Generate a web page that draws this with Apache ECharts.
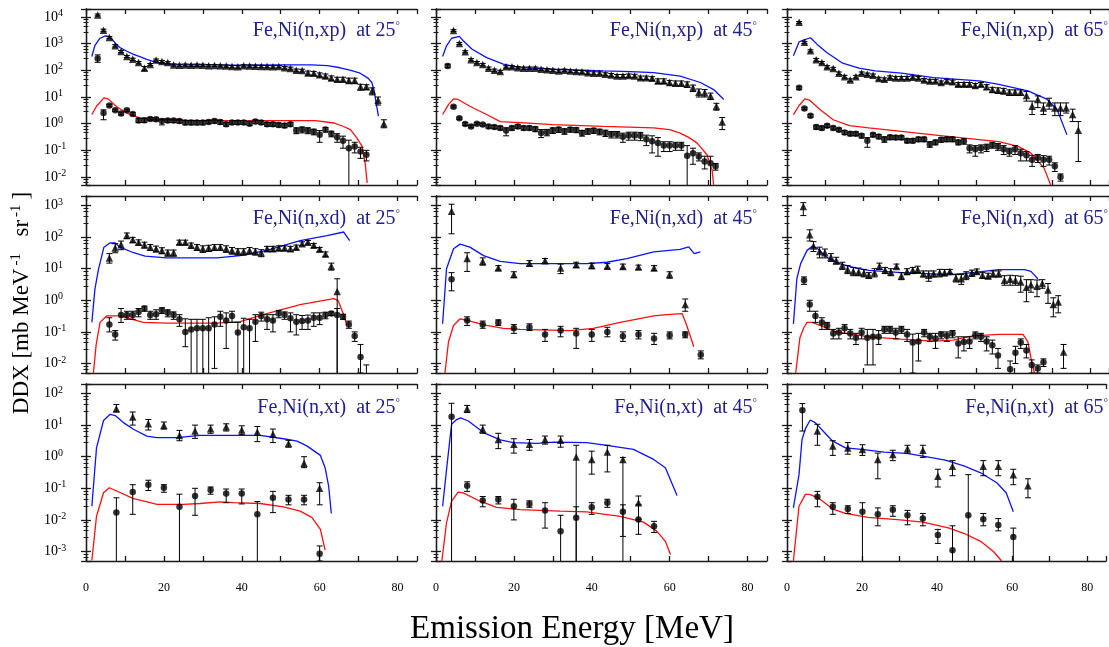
<!DOCTYPE html>
<html>
<head>
<meta charset="utf-8">
<script src="https://cdn.jsdelivr.net/npm/echarts@6/dist/echarts.min.js"></script>
<style>
html, body { margin: 0; padding: 0; background: #fff; }
#chart { width: 1109px; height: 647px; }
</style>
</head>
<body>
<div id="chart"></div>
<script>
// data points: [energy MeV, DDX, err low, err high]; curves: [energy, DDX]

// ---- (n,xp) 25 deg
var xp25Tri = [[3,12000,11000,13000],[4.5,3200,2900,3500],[6,1700,1550,1850],[7.5,830,750,920],[9,510,460,560],[10.5,330,300,360],[12,260,235,285],[13.5,195,175,215],[15,120,100,140],[16.5,165,150,180],[18,245,225,265],[19.5,215,195,235],[21,195,178,212],[22.5,160,145,175],[24,155,140,170],[25.5,158,143,173],[27,155,140,170],[28.5,157,142,172],[30,155,140,170],[31.5,150,136,164],[33,152,138,166],[34.5,148,134,162],[36,145,131,159],[37.5,138,124,152],[39,135,120,150],[40.5,148,134,162],[42,145,131,159],[43.5,142,128,156],[45,140,126,154],[46.5,138,124,152],[48,135,121,149],[49.5,138,124,152],[51,126,112,140],[52.5,118,104,132],[54,100,88,112],[55.5,98,86,110],[57,80,66,94],[58.5,78,65,91],[60,68,56,80],[61.5,62,51,73],[63,52,42,62],[64.5,46,37,55],[66,46,37,55],[67.5,42,33,51],[69,42,33,51],[70.5,24,18,30],[72,24,19,29],[73.5,17,12,22],[75,7.6,5,10],[76.5,1.0,0.7,1.4]];
var xp25Cir = [[3,280,200,380],[4.5,2.5,1.4,3.3],[6,4.8,4.3,5.3],[7.5,3.2,2.9,3.5],[9,2.4,2.1,2.7],[10.5,3.2,2.9,3.5],[12,2.3,2.0,2.6],[13.5,1.3,1.1,1.6],[15,1.35,1.1,1.6],[16.5,1.5,1.3,1.7],[18,1.45,1.25,1.65],[19.5,1.25,0.9,1.5],[21,1.3,1.1,1.5],[22.5,1.3,1.1,1.5],[24,1.25,1.05,1.45],[25.5,1.1,0.9,1.3],[27,1.1,0.9,1.3],[28.5,1.1,0.9,1.3],[30,1.1,0.9,1.3],[31.5,1.15,1.0,1.35],[33,1.25,1.05,1.45],[34.5,1.15,0.95,1.35],[36,0.95,0.8,1.1],[37.5,1.1,0.95,1.3],[39,1.1,0.95,1.3],[40.5,1.1,0.95,1.3],[42,1.0,0.85,1.2],[43.5,1.2,1.0,1.4],[45,1.1,0.95,1.3],[46.5,0.95,0.8,1.1],[48,0.95,0.8,1.1],[49.5,0.9,0.75,1.05],[51,0.85,0.7,1.0],[52.5,0.95,0.8,1.1],[54,0.55,0.42,0.7],[55.5,0.6,0.45,0.75],[57,0.55,0.42,0.7],[58.5,0.5,0.38,0.62],[60,0.38,0.2,0.55],[61.5,0.6,0.48,0.72],[63,0.42,0.32,0.52],[64.5,0.31,0.2,0.42],[66,0.23,0.12,0.34],[67.5,0.12,0.001,0.24],[69,0.14,0.08,0.2],[70.5,0.09,0.05,0.13],[72,0.068,0.04,0.1]];
var xp25Blue = [[1.5,330],[2.3,870],[3.6,1600],[5,1950],[6.2,1850],[7.5,1050],[8.7,720],[10.5,520],[12.2,400],[14,320],[15.6,260],[18.2,195],[20,180],[22.5,165],[30,160],[40,158],[50,160],[58,160],[62,150],[65.3,125],[68,100],[70.4,78],[72.5,50],[73.4,35],[74,17],[74.6,5],[75.1,1.9]];
var xp25Red = [[1.5,2.2],[2.7,4.5],[4.6,9.3],[5.7,8.5],[7.9,4.3],[10.5,2.5],[13.9,1.6],[18.2,1.4],[29,1.3],[45,1.3],[59,1.3],[63.6,1.06],[66,0.8],[67.9,0.6],[69.5,0.3],[70.9,0.14],[71.7,0.032],[72.2,0.006]];

// ---- (n,xp) 45 deg
var xp45Tri = [[4.5,3100,2850,3350],[6,1020,930,1110],[7.5,500,455,545],[9,250,225,275],[10.5,195,175,215],[12,165,148,182],[13.5,120,107,133],[15,100,89,111],[16.5,90,80,100],[18,135,121,149],[19.5,135,121,149],[21,126,113,139],[22.5,120,107,133],[24,120,107,133],[25.5,120,107,133],[27,110,98,122],[28.5,105,93,117],[30,100,89,111],[31.5,95,84,106],[33,100,89,111],[34.5,95,84,106],[36,90,80,100],[37.5,88,78,98],[39,82,72,92],[40.5,78,68,88],[42,78,68,88],[43.5,72,63,81],[45,67,58,76],[46.5,62,54,70],[48,62,54,70],[49.5,64,55,73],[51,62,53,71],[52.5,53,45,61],[54,53,45,61],[55.5,50,42,58],[57,40,32,48],[58.5,40,32,48],[60,35,28,42],[61.5,33,26,40],[63,33,26,40],[64.5,30,23,37],[66,22,16,28],[67.5,15,10,20],[69,14.5,10,19],[70.5,11,8,14],[72,4.5,3.2,5.8],[73.5,1.15,0.6,1.7]];
var xp45Cir = [[3,147,125,170],[4.5,4.3,3.9,4.7],[6,1.6,1.45,1.75],[7.5,0.97,0.85,1.1],[9,0.79,0.7,0.88],[10.5,1.0,0.9,1.1],[12,0.92,0.82,1.02],[13.5,0.79,0.68,0.9],[15,0.75,0.64,0.86],[16.5,0.69,0.58,0.8],[18,0.55,0.35,0.7],[19.5,0.69,0.57,0.81],[21,0.79,0.67,0.91],[22.5,0.69,0.57,0.81],[24,0.69,0.57,0.81],[25.5,0.63,0.5,0.76],[27,0.45,0.3,0.6],[28.5,0.48,0.35,0.61],[30,0.56,0.43,0.69],[31.5,0.6,0.47,0.73],[33,0.52,0.4,0.64],[34.5,0.6,0.48,0.72],[36,0.58,0.46,0.7],[37.5,0.45,0.34,0.56],[39,0.52,0.4,0.64],[40.5,0.55,0.43,0.67],[42,0.5,0.38,0.62],[43.5,0.45,0.33,0.57],[45,0.4,0.29,0.51],[46.5,0.4,0.29,0.51],[48,0.32,0.2,0.44],[49.5,0.36,0.24,0.48],[51,0.36,0.24,0.48],[52.5,0.35,0.23,0.47],[54,0.26,0.15,0.37],[55.5,0.22,0.08,0.35],[57,0.19,0.06,0.3],[58.5,0.15,0.09,0.21],[60,0.15,0.09,0.21],[61.5,0.15,0.1,0.2],[63,0.15,0.1,0.2],[64.5,0.063,0.001,0.15],[66,0.078,0.03,0.12],[67.5,0.058,0.04,0.08],[69,0.038,0.02,0.06],[70.5,0.033,0.001,0.06],[71.8,0.025,0.018,0.032]];
var xp45Blue = [[1.7,330],[2.7,830],[4,1600],[6,1870],[7,1290],[9.2,630],[13,300],[17.3,170],[21.6,126],[30,110],[43,95],[50,90],[55.9,82],[62.7,61],[67.9,35],[71.3,19],[73.9,8.1]];
var xp45Red = [[1.7,2.2],[3.2,5.2],[4.5,8.5],[5.7,8.1],[8.7,4.5],[13,2.2],[16.5,1.2],[21.6,1.1],[30,0.92],[43,0.79],[55.9,0.69],[60,0.6],[62.7,0.44],[65,0.3],[67,0.19],[69.6,0.068],[70.9,0.018],[71.3,0.005]];

// ---- (n,xp) 65 deg
var xp65Tri = [[3.2,6300,5800,6800],[4.6,1120,1020,1220],[6.2,540,490,590],[7.7,250,220,280],[9.2,195,175,215],[10.6,135,120,150],[12.2,117,104,130],[13.7,78,69,87],[15.2,58,51,65],[16.7,43,38,48],[18.2,58,51,65],[19.7,78,69,87],[21.2,71,63,79],[22.7,65,57,73],[24.2,49,43,55],[25.7,46,40,52],[27.2,55,48,62],[28.7,52,45,59],[30.2,52,45,59],[31.7,52,45,59],[33.2,55,48,62],[34.7,52,45,59],[36.2,43,37,49],[37.7,40,34,46],[39.2,40,34,46],[40.7,35,30,40],[42.2,40,34,46],[43.7,37,31,43],[45.2,30,25,35],[46.7,30,25,35],[48.2,30,25,35],[49.7,27,22,32],[51.2,30,25,35],[52.7,24,19,29],[54.2,19,15,23],[55.7,18,14,22],[57.2,17,13,21],[58.7,15,11.5,18.5],[60.2,15,11.5,18.5],[61.7,15,11.5,18.5],[63.2,11.4,7,16],[64.7,4.5,2.2,7],[66.2,8,4,11],[67.7,3.9,2.2,6],[69.2,6,3.5,9],[70.7,3.9,2,6],[72.2,3.9,2,6],[73.7,3.9,2.5,6],[75.4,2.2,1.2,3.5],[76.9,0.56,0.038,1.2]];
var xp65Cir = [[3.2,22,19,25],[4.6,3.7,3.3,4.1],[6.2,2.0,1.75,2.25],[7.7,0.75,0.62,0.88],[9.2,0.69,0.58,0.8],[10.6,0.84,0.72,0.96],[12.2,0.69,0.58,0.8],[13.7,0.59,0.5,0.68],[15.2,0.47,0.39,0.55],[16.7,0.42,0.35,0.49],[18.2,0.42,0.35,0.49],[19.7,0.35,0.29,0.41],[21.2,0.23,0.13,0.3],[22.7,0.38,0.32,0.44],[24.2,0.33,0.27,0.39],[25.7,0.26,0.2,0.32],[27.2,0.31,0.25,0.37],[28.7,0.3,0.25,0.35],[30.2,0.3,0.25,0.35],[31.7,0.23,0.19,0.27],[33.2,0.23,0.19,0.27],[34.7,0.26,0.21,0.31],[36.2,0.26,0.21,0.31],[37.7,0.17,0.13,0.21],[39.2,0.2,0.16,0.24],[40.7,0.25,0.2,0.3],[42.2,0.26,0.21,0.31],[43.7,0.26,0.21,0.31],[45.2,0.2,0.16,0.24],[46.7,0.22,0.17,0.27],[48.2,0.12,0.08,0.16],[49.7,0.11,0.06,0.15],[51.2,0.12,0.08,0.16],[52.7,0.13,0.09,0.17],[54.2,0.16,0.12,0.2],[55.7,0.14,0.1,0.18],[57.2,0.11,0.07,0.15],[58.7,0.09,0.06,0.12],[60.2,0.11,0.07,0.15],[61.7,0.078,0.04,0.11],[63.2,0.065,0.04,0.09],[64.7,0.044,0.025,0.065],[66.2,0.053,0.035,0.07],[67.7,0.044,0.025,0.063],[69.2,0.044,0.028,0.06],[70.7,0.025,0.016,0.034],[72.2,0.01,0.007,0.013]];
var xp65Blue = [[1.7,350],[3.2,1180],[4.5,1400],[6.2,1670],[7.9,960],[10.5,470],[14.7,185],[19,120],[23.3,95],[30.2,78],[38.7,53],[50.7,40],[55.9,30],[63.6,17],[68.7,8.1],[71.3,3.4],[73.9,0.38]];
var xp65Red = [[1.7,2.2],[3.2,4.8],[4.7,8.5],[6,7.6],[8.7,3.4],[12.2,1.4],[16.5,0.84],[21.6,0.69],[30.2,0.51],[38.7,0.38],[50.7,0.25],[55.9,0.21],[61,0.14],[64.4,0.078],[67.9,0.021],[69.6,0.005]];

// ---- (n,xd) 25 deg
var xd25Tri = [[6,22,15,30],[7.5,45,32,62],[9,57,40,75],[10.5,112,90,135],[12,83,68,98],[13.5,69,56,82],[15,57,45,69],[16.5,48,38,58],[18,43,34,52],[19.5,38,30,46],[21,32,25,39],[22.5,32,25,39],[24,69,58,80],[25.5,69,58,80],[27,55,45,65],[28.5,48,38,58],[30,43,33,53],[31.5,45,35,55],[33,48,38,58],[34.5,48,38,58],[36,43,33,53],[37.5,38,29,47],[39,35,27,43],[40.5,35,27,43],[42,38,29,47],[43.5,35,27,43],[45,32,24,40],[46.5,43,35,51],[48,43,35,51],[49.5,45,37,53],[51,45,37,53],[52.5,43,35,51],[54,48,40,56],[55.5,62,53,71],[57,69,60,78],[58.5,55,47,63],[60,41,35,47],[61.5,29,24,34],[63,12,9,15],[64.5,1.9,0.001,4.8]];
var xd25Cir = [[6,0.17,0.1,0.28],[7.5,0.083,0.055,0.11],[9,0.34,0.2,0.55],[10.5,0.34,0.25,0.45],[12,0.34,0.25,0.45],[13.5,0.43,0.3,0.55],[15,0.55,0.45,0.65],[16.5,0.34,0.25,0.45],[18,0.36,0.25,0.5],[19.5,0.48,0.38,0.58],[21,0.4,0.3,0.5],[22.5,0.34,0.25,0.43],[24,0.25,0.15,0.35],[25.5,0.1,0.034,0.26],[27,0.12,0.001,0.25],[28.5,0.13,0.001,0.25],[30,0.13,0.001,0.25],[31.5,0.13,0.001,0.28],[33,0.17,0.007,0.3],[34.5,0.3,0.15,0.45],[36,0.23,0.03,0.4],[37.5,0.32,0.2,0.45],[39,0.095,0.001,0.2],[40.5,0.14,0.001,0.27],[42,0.13,0.001,0.25],[43.5,0.21,0.05,0.35],[45,0.32,0.22,0.42],[46.5,0.25,0.12,0.35],[48,0.23,0.1,0.35],[49.5,0.38,0.28,0.48],[51,0.34,0.25,0.43],[52.5,0.27,0.1,0.4],[54,0.21,0.08,0.35],[55.5,0.22,0.12,0.33],[57,0.23,0.12,0.34],[58.5,0.28,0.15,0.4],[60,0.28,0.17,0.4],[61.5,0.34,0.26,0.42],[63,0.38,0.33,0.43],[64.5,0.34,0.001,0.55],[66,0.3,0.25,0.36],[67.5,0.17,0.13,0.22],[69,0.074,0.05,0.1],[70.5,0.016,0.005,0.04],[72,0.003,0.001,0.009]];
var xd25Blue = [[1.5,0.2],[2.3,2.3],[3.2,9.5],[4.6,48],[6.2,66],[7.5,65],[8.7,48],[12.2,32],[15.2,25],[20.7,22],[33.6,22],[39.6,26],[46.4,38],[55,78],[61.9,112],[66.2,145],[67.7,78]];
var xd25Red = [[1.9,0.005],[2.6,0.038],[3.6,0.2],[5.3,0.32],[8.7,0.32],[14.7,0.2],[20.7,0.19],[33.6,0.19],[39.6,0.21],[46.4,0.38],[55,0.73],[63.6,1.13],[64.7,1.0],[66.2,0.34],[67,0.16]];

// ---- (n,xd) 45 deg
var xd45Tri = [[4,660,127,1100],[8,21,8.2,32],[12,17,13,22],[16,10.5,9,12.5],[20,6.6,5.2,8],[24,15,12,18],[28,18,15,21],[32,10.5,7,14],[36,13.4,11,16],[40,12.7,10,15],[44,12,10,14.5],[48,11.8,9.8,14],[52,11.3,9.5,13],[56,10.5,8.8,12.5],[60,6.5,5,8],[64,0.73,0.45,1.1]];
var xd45Cir = [[4,4.6,2.0,7.5],[8,0.23,0.16,0.3],[12,0.17,0.13,0.22],[16,0.2,0.16,0.24],[20,0.13,0.09,0.17],[24,0.14,0.11,0.18],[28,0.083,0.05,0.12],[32,0.11,0.07,0.15],[36,0.089,0.03,0.13],[40,0.083,0.05,0.12],[44,0.1,0.07,0.14],[48,0.073,0.05,0.1],[52,0.083,0.06,0.11],[56,0.062,0.04,0.09],[60,0.078,0.06,0.1],[64,0.083,0.065,0.1],[68,0.019,0.014,0.025]];
var xd45Blue = [[1.7,0.18],[2.7,10],[4.5,43],[6.2,60],[8.7,48],[12.2,26],[16.5,17],[21.6,14.5],[38.7,14.5],[43.9,16],[49,21],[55.9,34],[62.7,41],[64.9,49],[66.3,30],[67.9,34]];
var xd45Red = [[2.3,0.005],[3.2,0.048],[4.5,0.16],[6.2,0.26],[8.7,0.22],[13,0.16],[17.3,0.13],[21.6,0.12],[34.4,0.11],[40.4,0.13],[47.3,0.2],[55.9,0.32],[59.3,0.35],[63.2,0.38],[64.4,0.16],[66.2,0.034]];

// ---- (n,xd) 65 deg
var xd65Tri = [[4.3,930,480,1230],[6,118,75,170],[7,52,35,72],[8.6,35,22,48],[10,32,22,42],[11.6,23,17,30],[13,18,14,23],[14.6,12.7,9.5,16],[16,9.5,7,12.5],[17.5,8.2,6,11],[18.9,7.9,6,10.5],[20.3,7.3,5.5,9.5],[21.6,6.2,5,7.5],[23.1,7.5,5.5,10],[24.4,12,9.5,15],[25.9,8.9,7,11],[27.4,7.9,6,10],[28.9,11.8,10,14],[30.2,5.9,4.5,7.5],[31.7,8.2,6.5,10],[33.2,8.9,7,11],[34.5,9.5,7.5,12],[36,6.9,5.5,8.5],[37.4,6.2,4,8.5],[38.7,6.9,5.5,8.5],[40.3,7.5,5.5,9.5],[41.6,7.5,6,9.5],[43,8.2,7,9.5],[44.6,5.1,3.8,6.5],[46,4.8,3.2,6.5],[47.3,6.2,4.5,8],[48.8,7.3,5.8,9],[50.1,8.2,6.8,9.8],[51.6,6.2,5,7.5],[53.1,5.9,4.8,7.2],[54.4,6.9,5.5,8.5],[55.9,6.9,5.5,8.5],[57.4,4.3,3,6],[58.9,4.6,3,6.2],[60.3,4.3,3,6],[61.7,3.8,1.8,5.8],[63.2,2.6,0.9,4.5],[64.4,3.1,1.8,4.5],[66,2.8,1.3,4.4],[67.4,3.4,2.4,4.5],[68.9,2.1,0.8,3.4],[70.3,0.73,0.3,1.2],[71.6,0.89,0.4,1.4],[73,0.023,0.007,0.04]];
var xd65Cir = [[4.5,4.3,3.2,5.5],[6,0.73,0.45,1.0],[7.5,0.32,0.2,0.45],[9.2,0.2,0.12,0.28],[10.6,0.16,0.12,0.2],[12.2,0.089,0.06,0.12],[13.7,0.095,0.06,0.13],[15.2,0.13,0.09,0.17],[16.7,0.089,0.06,0.12],[18.2,0.065,0.04,0.09],[19.7,0.095,0.06,0.13],[21.2,0.065,0.009,0.12],[22.7,0.07,0.009,0.12],[24.2,0.07,0.04,0.11],[25.7,0.12,0.09,0.15],[27.2,0.12,0.09,0.15],[28.7,0.095,0.06,0.13],[30.2,0.12,0.09,0.15],[31.7,0.083,0.05,0.12],[33.2,0.046,0.005,0.085],[34.7,0.05,0.012,0.09],[36.2,0.095,0.07,0.12],[37.7,0.07,0.05,0.09],[39.2,0.062,0.03,0.09],[40.7,0.083,0.06,0.1],[42.2,0.075,0.05,0.1],[43.7,0.089,0.065,0.11],[45.2,0.043,0.015,0.07],[46.7,0.048,0.025,0.07],[48.2,0.05,0.03,0.07],[49.7,0.078,0.06,0.1],[51.2,0.07,0.05,0.09],[52.7,0.05,0.025,0.07],[54.2,0.038,0.02,0.055],[55.7,0.018,0.007,0.03],[58.9,0.0066,0.003,0.012],[60.3,0.022,0.01,0.035],[61.7,0.046,0.03,0.06],[63.2,0.026,0.015,0.04],[64.6,0.0089,0.005,0.013],[66.2,0.0069,0.005,0.009],[67.7,0.011,0.008,0.014]];
var xd65Blue = [[1.7,0.18],[2.6,4.8],[3.6,14.5],[5.3,38],[6.6,50],[7.9,45],[10.5,23],[13.9,14.5],[18.2,10.5],[21.6,8.9],[30.2,7.5],[43,6.5],[49,7.5],[55.9,9.3],[62.7,9.3],[64.4,8.2],[66.2,4.8]];
var xd65Red = [[2.3,0.005],[3.4,0.065],[4.5,0.14],[5.3,0.2],[6.6,0.2],[8.7,0.16],[13,0.1],[17.3,0.083],[21.6,0.07],[30.2,0.059],[38.7,0.051],[43.9,0.055],[49,0.075],[55.9,0.083],[62.3,0.083],[63.6,0.048],[64.4,0.015],[65.3,0.005]];

// ---- (n,xt) 25 deg
var xt25Tri = [[7.8,33,26,45],[12,18,10,26],[16,11,7,15],[20,9.8,7.5,12.5],[24,4.7,3.2,6.8],[28,6.5,3.8,10],[32,7.7,5.5,10],[36,8.9,6.5,11],[40,7,5,9.5],[44,6,3,9],[48,5.1,2.8,7.5],[52,2.6,2.0,3.3],[56,0.62,0.45,1.0],[60,0.1,0.03,0.15]];
var xt25Cir = [[7.8,0.017,0.0001,0.05],[12,0.076,0.015,0.13],[16,0.13,0.085,0.18],[20,0.104,0.075,0.13],[24,0.026,0.0001,0.065],[28,0.057,0.014,0.1],[32,0.088,0.065,0.11],[36,0.069,0.035,0.095],[40,0.069,0.032,0.095],[44,0.015,0.0001,0.038],[48,0.05,0.017,0.08],[52,0.044,0.03,0.06],[56,0.044,0.03,0.06],[60,0.00085,0.0005,0.0015]];
var xt25Blue = [[1.5,0.027],[2.7,1.9],[4.5,14],[6.2,22],[7.5,20],[9.6,12],[12.2,7.4],[15.6,4.5],[18.2,4],[23.3,4],[29.3,4.7],[37.9,4.7],[44.7,4.7],[50.7,3.7],[54.2,3.1],[56.7,2.2],[60.2,1.1],[61.4,0.45],[62.3,0.12],[63,0.016]];
var xt25Red = [[1.5,0.00052],[2.7,0.013],[4.5,0.072],[6,0.104],[7.9,0.082],[12.2,0.047],[16.5,0.035],[18.2,0.031],[25,0.031],[29.3,0.033],[34.4,0.037],[37.9,0.035],[44.7,0.033],[50.7,0.026],[55,0.019],[58,0.012],[60.2,0.005],[61.4,0.0011]];

// ---- (n,xt) 45 deg
var xt45Tri = [[8,33,25,42],[12,7.4,5.5,10],[16,3.5,1.8,5.5],[20,2.5,1.3,3.7],[24,2.5,1.6,3.5],[28,3.5,2.5,4.5],[32,3.3,2.0,4.5],[36,0.98,0.0001,2.3],[40,0.82,0.28,1.5],[44,1.4,0.33,2.3],[48,0.82,0.0001,0.95],[52,0.035,0.0105,0.057]];
var xt45Cir = [[4,18.5,0.0001,49],[8,0.12,0.08,0.16],[12,0.041,0.026,0.055],[16,0.044,0.032,0.055],[20,0.027,0.01,0.045],[24,0.032,0.025,0.04],[28,0.02,0.0055,0.035],[32,0.0044,0.0001,0.014],[36,0.0117,0.0001,0.026],[40,0.025,0.015,0.035],[44,0.035,0.025,0.045],[48,0.018,0.003,0.03],[52,0.0103,0.0035,0.03],[56,0.0063,0.004,0.009]];
var xt45Blue = [[1.7,0.027],[2.9,0.65],[4,10.6],[5.3,15],[6.3,17],[8.3,13.5],[12.2,5.8],[16.5,3.4],[19.9,2.8],[25.9,2.65],[30.2,2.9],[38.7,2.8],[43.9,2.3],[50.7,1.7],[55.9,0.82],[58.9,0.45],[61.9,0.059]];
var xt45Red = [[1.5,0.0005],[2.7,0.0081],[4,0.039],[5.7,0.076],[7,0.072],[11.3,0.039],[15.6,0.025],[21.6,0.021],[31.9,0.019],[38.7,0.018],[47.3,0.013],[53.3,0.0085],[56.7,0.0044],[58.9,0.0021],[60.2,0.0008]];

// ---- (n,xt) 65 deg
var xt65Tri = [[8.1,6.5,2.3,10.6],[12.2,2.2,1.1,3.2],[16.2,1.9,1.2,2.8],[20.1,1.7,1.1,2.4],[24.2,0.82,0.2,1.3],[28.2,1.18,0.75,1.6],[32.1,1.8,1.3,2.3],[36.2,1.6,0.95,2.3],[40.2,0.24,0.11,0.4],[44.1,0.5,0.25,0.75],[52.3,0.5,0.25,0.75],[56.3,0.5,0.25,0.75],[60.3,0.27,0.13,0.4],[64.2,0.12,0.05,0.2]];
var xt65Cir = [[4.1,29.5,6.5,48],[8.1,0.054,0.026,0.08],[12.2,0.026,0.015,0.035],[16.2,0.022,0.016,0.028],[20.1,0.018,0.0001,0.035],[24.2,0.015,0.0065,0.024],[28.2,0.021,0.013,0.028],[32.1,0.014,0.007,0.02],[36.2,0.011,0.0065,0.016],[40.2,0.0033,0.0018,0.005],[44.1,0.0011,0.0001,0.0065],[48.3,0.014,0.0001,0.27],[52.3,0.0104,0.0065,0.016],[56.3,0.0069,0.0045,0.011],[60.3,0.0029,0.0001,0.0055]];
var xt65Blue = [[1.7,0.024],[3.2,0.27],[4,3.5],[4.9,7.7],[6.2,14.5],[7.5,12],[9.6,6.5],[12.2,3.1],[15.6,1.9],[19.9,1.7],[25.9,1.4],[31.9,1.28],[37,1.0],[42.2,0.78],[47.3,0.5],[51.6,0.31],[55.9,0.15],[58.4,0.072],[60.3,0.018]];
var xt65Red = [[1.7,0.0005],[3.2,0.027],[4.9,0.064],[6,0.064],[8.3,0.05],[12.2,0.022],[15.6,0.016],[21.6,0.012],[30.2,0.01],[36.2,0.0085],[43,0.0056],[47.3,0.0037],[51.6,0.0021],[55,0.001],[57.2,0.0005]];

var reactions = ['xp', 'xd', 'xt'];
var angles = ['25', '45', '65'];
var xTicks = [0, 20, 40, 60, 80];
var yRanges = [[0.005, 20000], [0.005, 2000], [0.0005, 200]];

var panelData = [
  [xp25Tri, xp25Cir, xp25Blue, xp25Red], [xp45Tri, xp45Cir, xp45Blue, xp45Red], [xp65Tri, xp65Cir, xp65Blue, xp65Red],
  [xd25Tri, xd25Cir, xd25Blue, xd25Red], [xd45Tri, xd45Cir, xd45Blue, xd45Red], [xd65Tri, xd65Cir, xd65Blue, xd65Red],
  [xt25Tri, xt25Cir, xt25Blue, xt25Red], [xt45Tri, xt45Cir, xt45Blue, xt45Red], [xt65Tri, xt65Cir, xt65Blue, xt65Red]
];

var FONT = 'Liberation Serif';
var colLeft = [86, 436, 787];
var rowTop = [9, 196, 384];
var rowH = [176, 177, 177];
var gridW = 331;
var titleX = [400, 757, 1108];
var titleY = [31, 219, 408];

var lineStyle = { color: '#1a1a1a', width: 1.3 };

function errBar(params, api) {
  var x = api.value(0);
  var top = api.coord([x, api.value(3)]);
  var bot = api.coord([x, api.value(2)]);
  var s = { stroke: '#000', lineWidth: 1 };
  return {
    type: 'group',
    children: [
      { type: 'line', shape: { x1: top[0], y1: top[1], x2: bot[0], y2: bot[1] }, style: s },
      { type: 'line', shape: { x1: top[0] - 3, y1: top[1], x2: top[0] + 3, y2: top[1] }, style: s },
      { type: 'line', shape: { x1: bot[0] - 3, y1: bot[1], x2: bot[0] + 3, y2: bot[1] }, style: s }
    ]
  };
}

function yLabel(v) {
  var l = Math.log10(v);
  var e = Math.round(l);
  if (Math.abs(l - e) > 1e-6) return '';
  return '{b|10}{s|' + e + '}';
}

var grids = [], xAxes = [], yAxes = [], series = [], graphics = [];

panelData.forEach(function (d, i) {
  var row = Math.floor(i / 3), col = i % 3;
  grids.push({ left: colLeft[col], top: rowTop[row], width: gridW, height: rowH[row] });

  [ 'bottom', 'top' ].forEach(function (pos) {
    xAxes.push({
      gridIndex: i, type: 'value', position: pos, min: 0, max: 85, interval: 10,
      axisLine: { show: true, lineStyle: lineStyle },
      axisTick: { show: true, inside: true, length: 5, lineStyle: lineStyle },
      splitLine: { show: false },
      axisLabel: {
        show: pos === 'bottom' && row === 2, margin: 21, fontSize: 12, fontFamily: FONT, color: '#000',
        formatter: function (v) { return xTicks.indexOf(v) >= 0 ? String(v) : ''; }
      }
    });
  });
  [ 'left', 'right' ].forEach(function (pos) {
    yAxes.push({
      gridIndex: i, type: 'log', logBase: 10, position: pos,
      min: yRanges[row][0], max: yRanges[row][1],
      axisLine: { show: true, lineStyle: lineStyle },
      axisTick: { show: true, inside: true, length: 5, lineStyle: lineStyle },
      minorTick: { show: true, length: 2.5, lineStyle: { color: '#1a1a1a', width: 1 } },
      splitLine: { show: false },
      axisLabel: {
        show: pos === 'left' && col === 0, align: 'left', margin: 42, color: '#000',
        formatter: yLabel,
        rich: {
          b: { fontSize: 14, fontFamily: FONT, color: '#000', lineHeight: 17 },
          s: { fontSize: 10, fontFamily: FONT, color: '#000', verticalAlign: 'top', lineHeight: 10 }
        }
      }
    });
  });

  var xi = i * 2, yi = i * 2;
  series.push({
    type: 'line', xAxisIndex: xi, yAxisIndex: yi, data: d[2], symbol: 'none',
    lineStyle: { color: '#0a14ff', width: 1.3 }, clip: true, z: 2
  });
  series.push({
    type: 'line', xAxisIndex: xi, yAxisIndex: yi, data: d[3], symbol: 'none',
    lineStyle: { color: '#ff1010', width: 1.3 }, clip: true, z: 2
  });
  [d[0], d[1]].forEach(function (pts, k) {
    series.push({
      type: 'custom', xAxisIndex: xi, yAxisIndex: yi, data: pts, renderItem: errBar,
      encode: { x: 0, y: 1 }, clip: true, z: 3
    });
    series.push({
      type: 'scatter', xAxisIndex: xi, yAxisIndex: yi,
      data: pts.map(function (p) { return [p[0], p[1]]; }),
      symbol: k === 0 ? 'triangle' : 'circle', symbolSize: k === 0 ? 7.5 : 6.5,
      itemStyle: { color: '#000' }, clip: true, z: 4
    });
  });

  graphics.push({
    type: 'text', x: titleX[col], y: titleY[row], z: 10,
    style: {
      text: '{t|Fe,Ni(n,' + reactions[row] + ')  at ' + angles[col] + '}{d|°}',
      align: 'right', verticalAlign: 'middle',
      rich: {
        t: { fontSize: 20, fontFamily: FONT, fill: '#20208f' },
        d: { fontSize: 11, fontFamily: FONT, fill: '#20208f', verticalAlign: 'top' }
      }
    }
  });
});

graphics.push({
  type: 'text', x: 22, y: 303, rotation: Math.PI / 2,
  style: {
    text: '{b|DDX [mb MeV}{s|-1}{b|  sr}{s|-1}{b|]}',
    align: 'center', verticalAlign: 'middle',
    rich: {
      b: { fontSize: 23, fontFamily: FONT, fill: '#000', lineHeight: 26 },
      s: { fontSize: 15, fontFamily: FONT, fill: '#000', verticalAlign: 'top', lineHeight: 14, padding: [0, 5, 0, 3] }
    }
  }
});
graphics.push({
  type: 'text', x: 572, y: 629,
  style: { text: 'Emission Energy [MeV]', align: 'center', verticalAlign: 'middle', fontSize: 33, fontFamily: FONT, fill: '#000' }
});

var chart = echarts.init(document.getElementById('chart'));
chart.setOption({
  animation: false,
  backgroundColor: '#fff',
  grid: grids,
  xAxis: xAxes,
  yAxis: yAxes,
  series: series,
  graphic: graphics
});
</script>
</body>
</html>
